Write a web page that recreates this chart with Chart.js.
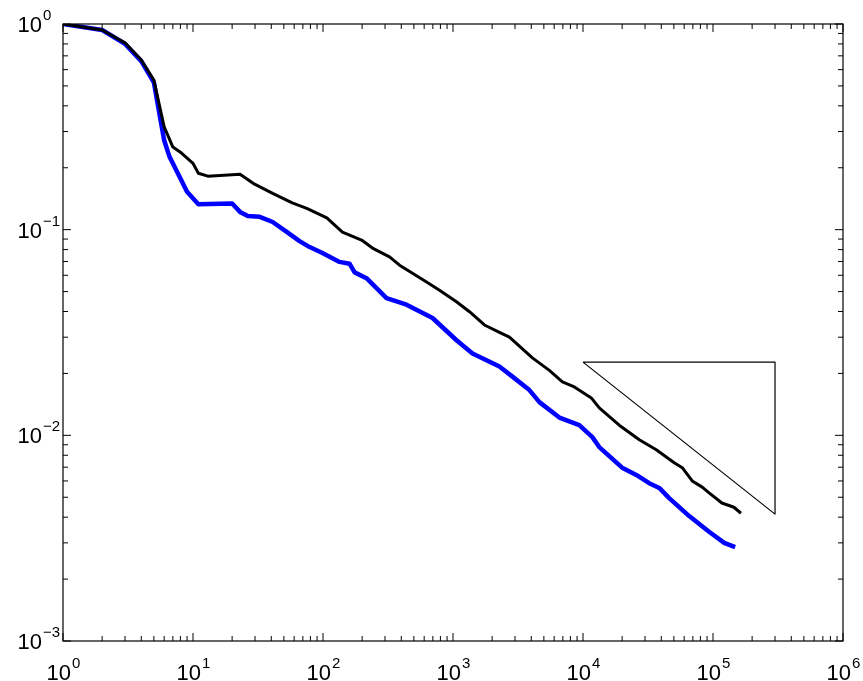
<!DOCTYPE html>
<html>
<head>
<meta charset="utf-8">
<script src="https://cdn.jsdelivr.net/npm/chart.js@4/dist/chart.umd.min.js"></script>
<style>
  html, body { margin: 0; padding: 0; background: #fff; }
  #wrap { width: 863px; height: 681px; }
</style>
</head>
<body>
<div id="wrap"><canvas id="c" width="863" height="681"></canvas></div>
<script>
// Distribution tail, model (black) and observed (blue)
const blackX = [1, 2, 3, 4, 5, 6, 7, 8, 10, 11, 13, 23, 29, 41, 58, 75, 107, 141, 198, 240, 325, 388, 626, 787, 1064, 1339, 1745, 2276, 2717, 4080, 5510, 6940, 8580, 11590, 13340, 19000, 27100, 36600, 50300, 58000, 69200, 82600, 93300, 117000, 145000, 164000];
const blackY = [1.0, 0.935, 0.81, 0.668, 0.534, 0.316, 0.252, 0.238, 0.21, 0.188, 0.182, 0.186, 0.168, 0.150, 0.135, 0.127, 0.114, 0.0973, 0.089, 0.0814, 0.0737, 0.0672, 0.0556, 0.0508, 0.0446, 0.0399, 0.0344, 0.0317, 0.030, 0.0238, 0.0207, 0.0182, 0.0172, 0.0152, 0.0136, 0.0112, 0.00952, 0.00851, 0.00736, 0.00696, 0.0060, 0.0056, 0.00525, 0.00469, 0.00447, 0.00418];

const blueX = [1, 2, 3, 4, 5, 6, 6.6, 9, 11, 20, 23, 26.4, 32.6, 41, 52.6, 66, 79, 99, 134, 160, 175, 216, 308, 439, 696, 1064, 1413, 2276, 2865, 3870, 4620, 6580, 9370, 11800, 13340, 20000, 25700, 32300, 38600, 46000, 65600, 93300, 122000, 148000];
const blueY = [1.0, 0.935, 0.80, 0.66, 0.52, 0.272, 0.226, 0.153, 0.133, 0.134, 0.122, 0.1165, 0.1155, 0.109, 0.0975, 0.088, 0.0823, 0.0770, 0.0697, 0.0683, 0.0620, 0.0581, 0.0465, 0.0432, 0.0372, 0.0290, 0.0250, 0.0216, 0.0193, 0.0166, 0.0145, 0.0122, 0.0112, 0.0098, 0.00877, 0.00696, 0.00642, 0.00585, 0.00555, 0.00495, 0.00405, 0.0034, 0.0030, 0.00286];

// Slope -1/2 reference triangle
const guideX = [1e4, 3e5, 3e5, 1e4];
const guideY = [0.0227, 0.0227, 0.00414, 0.0227];

// Decade tick exponents
const xExponents = [0, 1, 2, 3, 4, 5, 6];
const yExponents = [-3, -2, -1, 0];

const toPoints = (xs, ys) => xs.map((x, i) => ({ x: x, y: ys[i] }));

const FONT = '"Liberation Sans", Arial, Helvetica, sans-serif';

function drawPow(ctx, base, exp, x, y, align) {
  // base text at baseline y, exponent raised; align refers to the base "10"
  ctx.font = '22px ' + FONT;
  const bw = ctx.measureText(base).width;
  ctx.font = '15px ' + FONT;
  const ew = ctx.measureText(exp).width;
  let bx;
  if (align === 'right') bx = x - bw;
  else bx = x - (bw + ew) / 2;
  ctx.font = '22px ' + FONT;
  ctx.textAlign = 'left';
  ctx.textBaseline = 'alphabetic';
  ctx.fillText(base, bx, y);
  ctx.font = '15px ' + FONT;
  ctx.fillText(exp, bx + bw + 1, y - 12);
}

const frameAndTicks = {
  id: 'frameAndTicks',
  afterDraw(chart) {
    const ctx = chart.ctx;
    const a = chart.chartArea;
    const xs = chart.scales.x, ys = chart.scales.y;
    ctx.save();
    ctx.strokeStyle = '#000';
    ctx.fillStyle = '#000';
    ctx.lineWidth = 1.2;
    ctx.strokeRect(a.left, a.top, a.right - a.left, a.bottom - a.top);

    ctx.lineWidth = 1;
    ctx.beginPath();
    // x ticks (top and bottom, pointing inward)
    xExponents.forEach((e, i) => {
      const p = xs.getPixelForValue(Math.pow(10, e));
      ctx.moveTo(p, a.bottom); ctx.lineTo(p, a.bottom - 8);
      ctx.moveTo(p, a.top); ctx.lineTo(p, a.top + 8);
      if (i < xExponents.length - 1) {
        for (let k = 2; k <= 9; k++) {
          const q = xs.getPixelForValue(k * Math.pow(10, e));
          ctx.moveTo(q, a.bottom); ctx.lineTo(q, a.bottom - 5);
          ctx.moveTo(q, a.top); ctx.lineTo(q, a.top + 5);
        }
      }
    });
    // y ticks (left and right, pointing inward)
    yExponents.forEach((e, i) => {
      const p = ys.getPixelForValue(Math.pow(10, e));
      ctx.moveTo(a.left, p); ctx.lineTo(a.left + 8, p);
      ctx.moveTo(a.right, p); ctx.lineTo(a.right - 8, p);
      if (i < yExponents.length - 1) {
        for (let k = 2; k <= 9; k++) {
          const q = ys.getPixelForValue(k * Math.pow(10, e));
          ctx.moveTo(a.left, q); ctx.lineTo(a.left + 5, q);
          ctx.moveTo(a.right, q); ctx.lineTo(a.right - 5, q);
        }
      }
    });
    ctx.stroke();

    // tick labels
    xExponents.forEach(e => {
      const p = xs.getPixelForValue(Math.pow(10, e));
      drawPow(ctx, '10', String(e).replace('-', '\u2212'), p, a.bottom + 39, 'center');
    });
    yExponents.forEach(e => {
      const p = ys.getPixelForValue(Math.pow(10, e));
      drawPow(ctx, '10', String(e).replace('-', '\u2212'), a.left - 21, p + 8, 'right');
    });
    ctx.restore();
  }
};

const lineStyle = { pointRadius: 0, tension: 0, fill: false, borderJoinStyle: 'round' };

new Chart(document.getElementById('c'), {
  type: 'line',
  data: {
    datasets: [
      Object.assign({ data: toPoints(blackX, blackY), borderColor: '#000000', borderWidth: 3 }, lineStyle),
      Object.assign({ data: toPoints(blueX, blueY), borderColor: '#0000ff', borderWidth: 4.5 }, lineStyle),
      Object.assign({ data: toPoints(guideX, guideY), borderColor: '#000000', borderWidth: 1.2 }, lineStyle)
    ]
  },
  options: {
    responsive: false,
    animation: false,
    layout: { padding: { left: 63, top: 24, right: 20, bottom: 40 } },
    plugins: { legend: { display: false }, tooltip: { enabled: false } },
    scales: {
      x: { type: 'logarithmic', min: 1, max: 1e6, display: false },
      y: { type: 'logarithmic', min: 1e-3, max: 1, display: false }
    }
  },
  plugins: [frameAndTicks]
});
</script>
</body>
</html>
